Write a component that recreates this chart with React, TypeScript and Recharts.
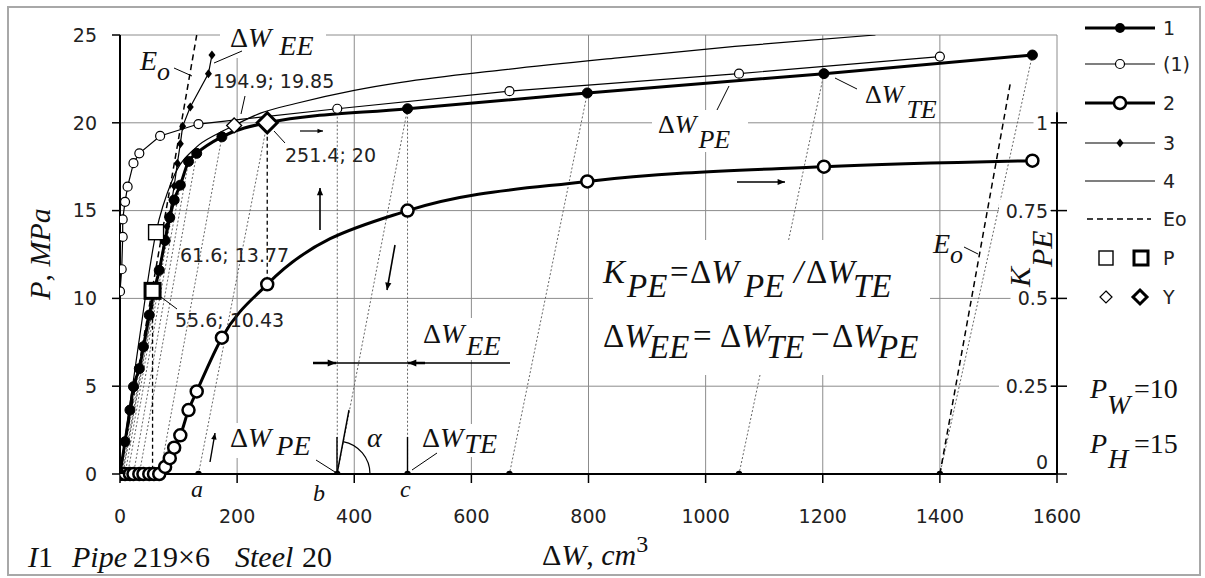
import React from 'react';
import {
  ComposedChart, Line, Scatter, XAxis, YAxis, CartesianGrid, ReferenceLine,
} from 'recharts';

// ---------------- data ----------------
const xTicks = [0, 200, 400, 600, 800, 1000, 1200, 1400, 1600];
const pTicks = [0, 5, 10, 15, 20, 25];
const kTicks = [0, 0.25, 0.5, 0.75, 1];

// curve 1 : P vs ΔW_TE (loading)
const curve1X = [0, 8.6, 17, 23, 33, 40, 50, 58, 67, 77, 85, 92.5, 103, 117, 131, 174, 251.4, 491, 798, 1202, 1558];
const curve1P = [0, 1.84, 3.64, 4.97, 6.0, 7.25, 9.05, 10.4, 11.6, 13.3, 14.6, 15.6, 16.45, 17.8, 18.26, 19.2, 20.0, 20.8, 21.7, 22.8, 23.86];
// curve (1) : P vs ΔW_PE
const curve1bX = [0, 2.9, 4.6, 4.6, 8.6, 13, 23, 33, 68.5, 134, 371, 665, 1057, 1400];
const curve1bP = [10.4, 11.66, 13.5, 14.5, 15.5, 16.36, 17.7, 18.26, 19.25, 19.93, 20.8, 21.8, 22.8, 23.77];
// curve 2 : K_PE vs ΔW_TE (right axis)
const curve2K = [0, 0, 0, 0, 0, 0, 0, 0, 0, 0.02, 0.045, 0.075, 0.11, 0.182, 0.235, 0.388, 0.54, 0.75, 0.833, 0.875, 0.892];
// curve 3
const curve3X = [0, 8.6, 17, 23, 33, 40, 50, 67, 80, 84.6, 88.6, 92.5, 98, 103, 107, 120, 151, 157];
const curve3P = [0, 1.84, 3.64, 4.97, 6.0, 7.25, 9.05, 11.6, 14.1, 14.75, 15.6, 16.4, 17.7, 18.8, 19.8, 20.9, 22.8, 23.86];
// curve 4
const curve4X = [0, 30, 61.6, 90, 130, 165, 194.9, 240, 300, 400, 480, 650, 850, 1050, 1290];
const curve4P = [0, 7, 13.77, 16.8, 18.6, 19.35, 19.85, 20.55, 21.1, 21.85, 22.3, 23.0, 23.7, 24.35, 25];
// elastic lines Eo
const eoLeftX = [0, 131];
const eoLeftP = [0, 25];
const eoRightX = [1400, 1520];
const eoRightP = [0, 22.2];
// unloading lines: from loading point to residual ΔW_PE on the axis
const unloadFromX = [58, 67, 77, 85, 92.5, 103, 117, 131, 174, 251.4, 491, 798, 1202, 1558];
const unloadFromP = [10.4, 11.6, 13.3, 14.6, 15.6, 16.45, 17.8, 18.26, 19.2, 20.0, 20.8, 21.7, 22.8, 23.86];
const unloadToX = [0, 2.9, 4.6, 4.6, 8.6, 13, 23, 33, 68.5, 134, 371, 665, 1057, 1400];
// dots on the ΔW axis
const axisDotX = [134, 371, 491, 665, 1057, 1400];
// characteristic points
const pointPX = [61.6, 55.6];
const pointPP = [13.77, 10.43];
const pointYX = [194.9, 251.4];
const pointYP = [19.85, 20];

const pts = (xs: number[], ys: number[]) => xs.map((x, i) => ({ x, y: ys[i] }));

const curve1 = pts(curve1X, curve1P);
const curve1b = pts(curve1bX, curve1bP);
const curve2 = pts(curve1X, curve2K);
const curve3 = pts(curve3X, curve3P);
const curve4 = pts(curve4X, curve4P);
const eoLeft = pts(eoLeftX, eoLeftP);
const eoRight = pts(eoRightX, eoRightP);
const axisDots = axisDotX.map((x) => ({ x, y: 0 }));
const pData = pts(pointPX, pointPP).map((d, i) => ({ ...d, thick: i === 1 }));
const yData = pts(pointYX, pointYP).map((d, i) => ({ ...d, thick: i === 1 }));

const SERIF = '"Liberation Serif", "DejaVu Serif", serif';
const SANS = '"DejaVu Sans", "Liberation Sans", sans-serif';
const GRID = '#8c8c8c';
const INK = '#111';

// ---------------- shapes ----------------
const DiamondDot = (props: any) => {
  const { cx, cy, index } = props;
  if (cx == null || cy == null) return null;
  return <path key={`dd${index}`} d={`M${cx},${cy - 4.5}L${cx + 3.5},${cy}L${cx},${cy + 4.5}L${cx - 3.5},${cy}Z`} fill="#000" />;
};

const SquareShape = (props: any) => {
  const { cx, cy, payload } = props;
  const s = 15;
  return <rect x={cx - s / 2} y={cy - s / 2} width={s} height={s} fill="#fff" stroke="#000" strokeWidth={payload.thick ? 3 : 1.4} />;
};

const DiamondShape = (props: any) => {
  const { cx, cy, payload } = props;
  const h = payload.thick ? 10 : 7.5;
  return <path d={`M${cx},${cy - h}L${cx + h},${cy}L${cx},${cy + h}L${cx - h},${cy}Z`} fill="#fff" stroke="#000" strokeWidth={payload.thick ? 3 : 1.3} />;
};

const AxisDotShape = (props: any) => {
  const { cx, cy } = props;
  return <circle cx={cx} cy={cy} r={3.2} fill="#000" />;
};

const KTick = (props: any) => {
  const { x, y, payload } = props;
  const v = payload.value;
  const label = String(v);
  const ty = v === 0 ? y - 12 : y;
  const w = label.length * 11.5 + 2;
  return (
    <g>
      <line x1={x - 6} x2={x + 10} y1={y} y2={y} stroke="#000" strokeWidth={1.5} />
      <rect x={x - 10 - w} y={ty - 11} width={w + 3} height={22} fill="#fff" />
      <text x={x - 9} y={ty} textAnchor="end" dominantBaseline="central" fontSize={19} fontFamily={SANS} fill="#222">{label}</text>
    </g>
  );
};

// ---------------- overlay helpers ----------------
const DW = ({ x, y, sub, dx = 5, dy = 10, size = 28 }: any) => (
  <text x={x} y={y} fontFamily={SERIF} fontSize={size} fill={INK}>
    <tspan>Δ</tspan>
    <tspan fontStyle="italic">W</tspan>
    <tspan fontStyle="italic" dx={dx} dy={dy}>{sub}</tspan>
  </text>
);

const Arrow = ({ x1, y1, x2, y2, w = 1.4, head = 7 }: any) => {
  const a = Math.atan2(y2 - y1, x2 - x1);
  const hx1 = x2 - head * Math.cos(a - 0.4);
  const hy1 = y2 - head * Math.sin(a - 0.4);
  const hx2 = x2 - head * Math.cos(a + 0.4);
  const hy2 = y2 - head * Math.sin(a + 0.4);
  return (
    <g>
      <line x1={x1} y1={y1} x2={x2} y2={y2} stroke="#000" strokeWidth={w} />
      <path d={`M${x2},${y2}L${hx1},${hy1}L${hx2},${hy2}Z`} fill="#000" />
    </g>
  );
};

const Lead = ({ x1, y1, x2, y2 }: any) => (
  <line x1={x1} y1={y1} x2={x2} y2={y2} stroke="#000" strokeWidth={1} />
);

const legendRows = [
  { y: 28, label: '1', kind: 'c1' },
  { y: 64, label: '(1)', kind: 'c1b' },
  { y: 103, label: '2', kind: 'c2' },
  { y: 143, label: '3', kind: 'c3' },
  { y: 181, label: '4', kind: 'c4' },
  { y: 219, label: 'Eo', kind: 'eo' },
  { y: 258, label: 'P', kind: 'p' },
  { y: 297, label: 'Y', kind: 'yy' },
];

const LegendItem = ({ y, label, kind }: any) => {
  const x1 = 1085, x2 = 1155, mx = 1120;
  let g: any = null;
  if (kind === 'c1') g = (<g><line x1={x1} x2={x2} y1={y} y2={y} stroke="#000" strokeWidth={3} /><circle cx={mx} cy={y} r={5} fill="#000" /></g>);
  if (kind === 'c1b') g = (<g><line x1={x1} x2={x2} y1={y} y2={y} stroke="#000" strokeWidth={1.2} /><circle cx={mx} cy={y} r={4.5} fill="#fff" stroke="#000" strokeWidth={1.2} /></g>);
  if (kind === 'c2') g = (<g><line x1={x1} x2={x2} y1={y} y2={y} stroke="#000" strokeWidth={3} /><circle cx={mx} cy={y} r={6} fill="#fff" stroke="#000" strokeWidth={2.5} /></g>);
  if (kind === 'c3') g = (<g><line x1={x1} x2={x2} y1={y} y2={y} stroke="#000" strokeWidth={1.2} /><path d={`M${mx},${y - 4.5}L${mx + 3.5},${y}L${mx},${y + 4.5}L${mx - 3.5},${y}Z`} fill="#000" /></g>);
  if (kind === 'c4') g = (<line x1={x1} x2={x2} y1={y} y2={y} stroke="#000" strokeWidth={1.2} />);
  if (kind === 'eo') g = (<line x1={x1 + 2} x2={x2 - 4} y1={y} y2={y} stroke="#000" strokeWidth={1.4} strokeDasharray="6 4" />);
  if (kind === 'p') g = (<g><rect x={1099} y={y - 7} width={14} height={14} fill="#fff" stroke="#000" strokeWidth={1.4} /><rect x={1134} y={y - 7} width={14} height={14} fill="#fff" stroke="#000" strokeWidth={3} /></g>);
  if (kind === 'yy') g = (<g><path d={`M1106,${y - 6}L1112,${y}L1106,${y + 6}L1100,${y}Z`} fill="#fff" stroke="#000" strokeWidth={1.2} /><path d={`M1140,${y - 7}L1147,${y}L1140,${y + 7}L1133,${y}Z`} fill="#fff" stroke="#000" strokeWidth={3} /></g>);
  return (
    <g>
      {g}
      <text x={1163} y={y} dominantBaseline="central" fontSize={19} fontFamily={SANS} fill="#222">{label}</text>
    </g>
  );
};

const Overlay = () => (
  <svg width={1205} height={578} style={{ position: 'absolute', left: 0, top: 0, pointerEvents: 'none' }}>
    <rect x={8} y={7} width={1192} height={568} fill="none" stroke="#a8a8a8" strokeWidth={2} />

    {/* top ΔW_EE + E_o */}
    <rect x={220} y={20} width={106} height={38} fill="#fff" />
    <DW x={230} y={47} sub="EE" dx={8} dy={8} />
    <Lead x1={242} y1={51} x2={214} y2={63} />
    <text x={140} y={70} fontFamily={SERIF} fontSize={28} fill={INK} fontStyle="italic">E<tspan dy={10} fontSize={26}>o</tspan></text>
    <Lead x1={174} y1={68} x2={192} y2={76} />

    {/* point labels */}
    <text x={213} y={88} fontFamily={SANS} fontSize={19} fill="#222">194.9; 19.85</text>
    <Lead x1={245} y1={96} x2={241} y2={114} />
    <text x={285} y={162} fontFamily={SANS} fontSize={19} fill="#222">251.4; 20</text>
    <Lead x1={274} y1={131} x2={285} y2={143} />
    <text x={180} y={262} fontFamily={SANS} fontSize={19} fill="#222">61.6; 13.77</text>
    <text x={175} y={327} fontFamily={SANS} fontSize={19} fill="#222">55.6; 10.43</text>
    <Lead x1={161} y1={297} x2={177} y2={309} />

    {/* upper ΔW_PE and ΔW_TE */}
    <rect x={652} y={110} width={96} height={42} fill="#fff" />
    <DW x={658} y={133} sub="PE" dx={2} dy={15} size={26} />
    <Lead x1={717} y1={110} x2={729} y2={86} />
    <DW x={865} y={103} sub="TE" dx={3} dy={15} size={26} />
    <Lead x1={857} y1={89} x2={835} y2={78} />

    {/* formulas */}
    <rect x={593} y={240} width={337} height={135} fill="#fff" />
    <text fontFamily={SERIF} fontSize={33} fill={INK}>
      <tspan x={603} y={283} fontStyle="italic">K</tspan>
      <tspan x={627} y={297} fontStyle="italic">PE</tspan>
      <tspan x={670} y={283}>=</tspan>
      <tspan x={690} y={283}>Δ</tspan><tspan fontStyle="italic">W</tspan>
      <tspan x={744} y={297} fontStyle="italic">PE</tspan>
      <tspan x={794} y={283} fontStyle="italic">/</tspan>
      <tspan x={806} y={283}>Δ</tspan><tspan fontStyle="italic">W</tspan>
      <tspan x={853} y={297} fontStyle="italic">TE</tspan>
    </text>
    <text fontFamily={SERIF} fontSize={33} fill={INK}>
      <tspan x={603} y={347}>Δ</tspan><tspan fontStyle="italic">W</tspan>
      <tspan x={649} y={358} fontStyle="italic">EE</tspan>
      <tspan x={693} y={347}>=</tspan>
      <tspan x={720} y={347}>Δ</tspan><tspan fontStyle="italic">W</tspan>
      <tspan x={766} y={358} fontStyle="italic">TE</tspan>
      <tspan x={811} y={345}>−</tspan>
      <tspan x={832} y={347}>Δ</tspan><tspan fontStyle="italic">W</tspan>
      <tspan x={878} y={358} fontStyle="italic">PE</tspan>
    </text>

    {/* right E_o */}
    <text x={933} y={253} fontFamily={SERIF} fontSize={28} fill={INK} fontStyle="italic">E<tspan dy={10} fontSize={26}>o</tspan></text>
    <Lead x1={964} y1={247} x2={978} y2={254} />

    {/* mid ΔW_EE with dimension line */}
    <rect x={419} y={318} width={94} height={42} fill="#fff" />
    <DW x={423} y={343} sub="EE" dx={2} dy={12} size={28} />
    <line x1={313} y1={363} x2={510} y2={363} stroke="#000" strokeWidth={1.5} />
    <Arrow x1={313} y1={363} x2={336} y2={363} w={2.5} head={9} />
    <Arrow x1={425} y1={363} x2={408} y2={363} w={2.5} head={9} />

    {/* lower ΔW_TE, ΔW_PE, α */}
    <rect x={418} y={424} width={88} height={33} fill="#fff" />
    <DW x={422} y={447} sub="TE" dx={1} dy={6} size={28} />
    <Lead x1={437} y1={453} x2={412} y2={470} />
    <rect x={227} y={423} width={90} height={35} fill="#fff" />
    <DW x={230} y={447} sub="PE" dx={5} dy={8} size={28} />
    <Lead x1={316} y1={460} x2={335} y2={472} />
    <line x1={337} y1={474} x2={337} y2={437} stroke="#000" strokeWidth={1.4} />
    <line x1={337} y1={474} x2={349} y2={410} stroke="#000" strokeWidth={1.4} />
    <line x1={407.5} y1={474} x2={407.5} y2={437} stroke="#000" strokeWidth={1.4} />
    <path d="M370,474 A33,33 0 0 0 343,441.6" fill="none" stroke="#000" strokeWidth={1.2} />
    <text x={367} y={447} fontFamily={SERIF} fontSize={28} fill={INK} fontStyle="italic">α</text>

    {/* a b c */}
    <text x={191} y={497} fontFamily={SERIF} fontSize={24} fill={INK} fontStyle="italic">a</text>
    <text x={313} y={501} fontFamily={SERIF} fontSize={24} fill={INK} fontStyle="italic">b</text>
    <text x={400} y={497} fontFamily={SERIF} fontSize={24} fill={INK} fontStyle="italic">c</text>

    {/* direction arrows */}
    <Arrow x1={300} y1={131} x2={323} y2={131} w={1.2} head={6} />
    <Arrow x1={320} y1={230} x2={320} y2={188} w={1.6} head={8} />
    <Arrow x1={395} y1={245} x2={387} y2={290} w={1.6} head={8} />
    <Arrow x1={210} y1={462} x2={215} y2={433} w={1.4} head={7} />
    <Arrow x1={737} y1={182} x2={785} y2={182} w={1.4} head={8} />

    {/* axis titles */}
    <text transform="translate(50,254) rotate(-90)" textAnchor="middle" fontFamily={SERIF} fontSize={30} fill={INK}>
      <tspan fontStyle="italic">P</tspan><tspan>, </tspan><tspan fontStyle="italic">MPa</tspan>
    </text>
    <text x={542} y={565} fontFamily={SERIF} fontSize={30} fill={INK}>
      <tspan>Δ</tspan><tspan fontStyle="italic">W</tspan><tspan>, </tspan><tspan fontStyle="italic">cm</tspan><tspan dy={-13} fontSize={24}>3</tspan>
    </text>
    <text transform="translate(1030,287) rotate(-90)" fontFamily={SERIF} fontSize={30} fill={INK} fontStyle="italic">
      <tspan>K</tspan><tspan dy={22}>PE</tspan>
    </text>
    <text fontFamily={SERIF} fontSize={30} fill={INK}>
      <tspan x={28} y={567} fontStyle="italic">I</tspan><tspan>1</tspan>
      <tspan x={72} y={567} fontStyle="italic">Pipe</tspan>
      <tspan x={133} y={567}>219×6</tspan>
      <tspan x={235} y={567} fontStyle="italic">Steel</tspan>
      <tspan x={302} y={567}>20</tspan>
    </text>

    {/* P_W, P_H */}
    <text fontFamily={SERIF} fontSize={28} fill={INK}>
      <tspan x={1090} y={398} fontStyle="italic">P</tspan>
      <tspan x={1107} y={414} fontStyle="italic">W</tspan>
      <tspan x={1134} y={398}>=10</tspan>
    </text>
    <text fontFamily={SERIF} fontSize={28} fill={INK}>
      <tspan x={1090} y={453} fontStyle="italic">P</tspan>
      <tspan x={1108} y={468} fontStyle="italic">H</tspan>
      <tspan x={1134} y={453}>=15</tspan>
    </text>

    {legendRows.map((r) => <LegendItem key={r.label} {...r} />)}
  </svg>
);

export default function App() {
  return (
    <div style={{ position: 'absolute', left: 0, top: 0, width: 1205, height: 578, background: '#fff' }}>
      <ComposedChart width={1205} height={578} margin={{ top: 35, right: 128, bottom: 44, left: 40 }}>
        <CartesianGrid stroke={GRID} strokeWidth={1} />
        <XAxis
          type="number" dataKey="x" domain={[0, 1600]} ticks={xTicks} interval={0} allowDataOverflow
          height={60} tickSize={9} tickMargin={27}
          tick={{ fontSize: 19, fill: '#222', fontFamily: SANS }}
          axisLine={{ stroke: '#000', strokeWidth: 2 }} tickLine={{ stroke: '#000', strokeWidth: 1.5 }}
        />
        <YAxis
          type="number" domain={[0, 25]} ticks={pTicks} interval={0} allowDataOverflow
          width={80} tickSize={8} tickMargin={15}
          tick={{ fontSize: 19, fill: '#222', fontFamily: SANS }}
          axisLine={{ stroke: '#000', strokeWidth: 2 }} tickLine={{ stroke: '#000', strokeWidth: 1.5 }}
        />
        <YAxis
          yAxisId="k" orientation="right" type="number" domain={[0, 1.25]} ticks={kTicks} interval={0}
          width={20} axisLine={false} tickLine={false} tickSize={0} tickMargin={0} tick={<KTick />}
        />

        {unloadFromX.map((x, i) => (
          <ReferenceLine key={`u${i}`} segment={[{ x, y: unloadFromP[i] }, { x: unloadToX[i], y: 0 }]}
            stroke="#666" strokeWidth={1} strokeDasharray="2 2" />
        ))}
        <ReferenceLine segment={[{ x: 371, y: 20.8 }, { x: 371, y: 0 }]} stroke="#666" strokeWidth={1} strokeDasharray="2 2" />
        <ReferenceLine segment={[{ x: 491, y: 20.8 }, { x: 491, y: 0 }]} stroke="#666" strokeWidth={1} strokeDasharray="2 2" />
        <ReferenceLine segment={[{ x: 251.4, y: 20 }, { x: 251.4, y: 10.8 }]} stroke="#000" strokeWidth={1.3} strokeDasharray="4 3" />
        <ReferenceLine segment={[{ x: 55.6, y: 10.43 }, { x: 55.6, y: 0 }]} stroke="#000" strokeWidth={1.3} strokeDasharray="4 3" />
        <ReferenceLine yAxisId="k" segment={[{ x: 1600, y: 0 }, { x: 1600, y: 1.03 }]} stroke="#000" strokeWidth={2} />

        <Line data={eoLeft} dataKey="y" type="linear" stroke="#000" strokeWidth={1.5} strokeDasharray="6 4" dot={false} isAnimationActive={false} />
        <Line data={eoRight} dataKey="y" type="linear" stroke="#000" strokeWidth={1.5} strokeDasharray="6 4" dot={false} isAnimationActive={false} />
        <Line data={curve4} dataKey="y" type="monotone" stroke="#000" strokeWidth={1.2} dot={false} isAnimationActive={false} />
        <Line data={curve3} dataKey="y" type="linear" stroke="#000" strokeWidth={1.2} dot={DiamondDot} isAnimationActive={false} />
        <Line data={curve1b} dataKey="y" type="linear" stroke="#000" strokeWidth={1.2}
          dot={{ r: 4.5, fill: '#fff', stroke: '#000', strokeWidth: 1.2 }} isAnimationActive={false} />
        <Line yAxisId="k" data={curve2} dataKey="y" type="monotone" stroke="#000" strokeWidth={3}
          dot={{ r: 6, fill: '#fff', stroke: '#000', strokeWidth: 2.5 }} isAnimationActive={false} />
        <Line data={curve1} dataKey="y" type="monotone" stroke="#000" strokeWidth={3}
          dot={{ r: 5, fill: '#000', stroke: '#000', strokeWidth: 1 }} isAnimationActive={false} />

        <Scatter data={axisDots} dataKey="y" shape={AxisDotShape} isAnimationActive={false} />
        <Scatter data={pData} dataKey="y" shape={SquareShape} isAnimationActive={false} />
        <Scatter data={yData} dataKey="y" shape={DiamondShape} isAnimationActive={false} />
      </ComposedChart>
      <Overlay />
    </div>
  );
}
